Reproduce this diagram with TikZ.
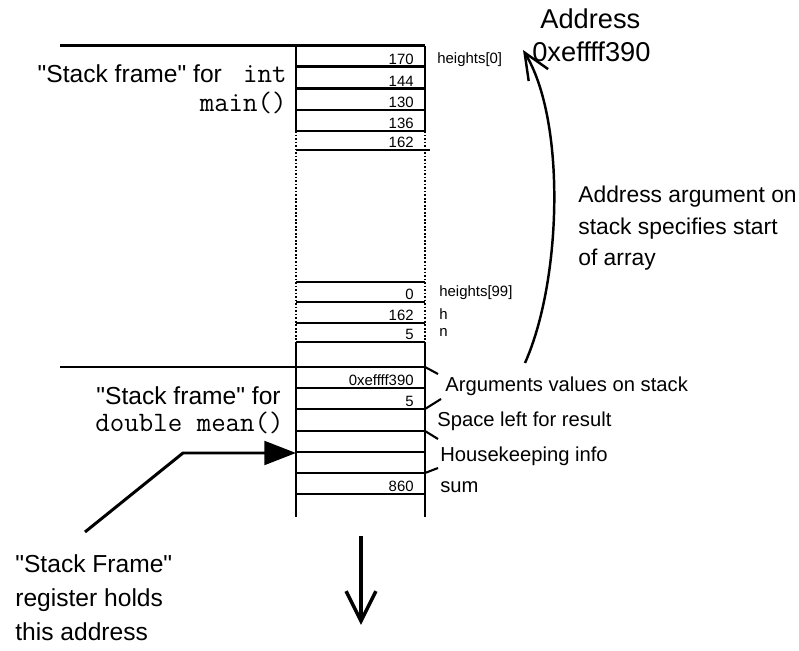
\documentclass[tikz,border=0pt]{standalone}
\usepackage{fontspec}
\setmainfont{Liberation Sans}
\usetikzlibrary{arrows.meta, positioning}

\begin{document}
\begin{tikzpicture}[x=0.02cm, y=-0.02cm,
		wall/.style={line width=1.7pt},
		dotwall/.style={line width=1.7pt, dash pattern=on 1pt off 1pt},
		cellval/.style={anchor=base east, inner sep=0pt, font=\fontsize{8.5}{10}\selectfont},
		varname/.style={anchor=base west, inner sep=0pt, font=\fontsize{8.5}{10}\selectfont},
		note/.style={anchor=base west, inner sep=0pt, font=\fontsize{11.5}{14}\selectfont},
		bignote/.style={anchor=base west, inner sep=0pt, font=\fontsize{13}{15}\selectfont},
		framelbl/.style={anchor=base east, inner sep=0pt, font=\fontsize{14}{16}\selectfont},
		code/.style={font=\fontsize{16}{18}\ttfamily},
		leader/.style={line width=1.2pt}]
	\useasboundingbox (0,0) rectangle (799,651);

	% Frame of main()
	\draw[wall] (60,46) -- (425,46);
	\draw[wall] (296,46) -- (296,131);
	\draw[wall] (425,46) -- (425,131);
	\foreach \y in {67,89,110,131} \draw[wall] (296,\y) -- (425,\y);
	\draw[wall] (296,150) -- (430,150);
	\draw[dotwall] (296,131) -- (296,342);
	\draw[dotwall] (425,131) -- (425,342);
	\foreach \y in {282,302,323,342} \draw[wall] (296,\y) -- (425,\y);

	% Frame of mean()
	\draw[wall] (60,367) -- (425,367);
	\draw[wall] (296,342) -- (296,517);
	\draw[wall] (425,342) -- (425,517);
	\foreach \y in {388,409,431,452,473,494} \draw[wall] (296,\y) -- (425,\y);

	% Cell contents
	\foreach \v/\y in {170/67, 144/89, 130/110, 136/131, 162/150, 0/302, 162/323, 5/342, 0xeffff390/388, 5/409, 860/494}
		\node[cellval] (val\y) at (414,\y-2) {\v};

	% Variable names
	\node[varname] (h0) at (437,64) {heights[0]};
	\node[varname] (h99) at (439,297) {heights[99]};
	\node[varname] (hvar) at (439,320) {h};
	\node[varname] (nvar) at (439,337) {n};

	% Frame labels
	\node[framelbl] (mainA) at (287,83) {\textquotedbl Stack frame\textquotedbl{} for {\fontsize{16}{18}\ttfamily{} int}};
	\node[framelbl, code] (mainB) at (287,112) {main()};
	\node[framelbl] (meanA) at (281,405) {\textquotedbl Stack frame\textquotedbl{} for};
	\node[framelbl, code] (meanB) at (284,432) {double mean()};

	% Notes on the mean() frame
	\node[note] (args) at (445,392) {Arguments values on stack};
	\node[note] (space) at (437,427) {Space left for result};
	\node[note] (house) at (440,462) {Housekeeping info};
	\node[note] (sum) at (440,493) {sum};
	\coordinate (argsL) at (438,374);
	\coordinate (spaceL) at (441,399);
	\coordinate (houseL) at (438,439);
	\coordinate (sumL) at (438,468);
	\draw[leader] (425,367) -- (argsL);
	\draw[leader] (425,409) -- (spaceL);
	\draw[leader] (425,431) -- (houseL);
	\draw[leader] (425,473) -- (sumL);

	% Address of the array
	\node[anchor=base west, inner sep=0pt, font=\fontsize{15.5}{18}\selectfont] (addrA) at (540,29) {Address};
	\node[anchor=base west, inner sep=0pt, font=\fontsize{15.5}{18}\selectfont] (addrB) at (532,62) {0xeffff390};
	\node[bignote] (startA) at (578,203) {Address argument on};
	\node[bignote] (startB) at (578,235) {stack specifies start};
	\node[bignote] (startC) at (578,266) {of array};
	\coordinate (argtail) at (525,363);
	\coordinate (addrtip) at (523,50);
	\draw[line width=1.4pt, -{Straight Barb[length=15pt, width=13pt]}] (argtail) .. controls (562,280) and (566,120) .. (addrtip);

	% Stack frame register
	\node[anchor=base west, inner sep=0pt, font=\fontsize{14}{16}\selectfont] (regA) at (15,573) {\textquotedbl Stack Frame\textquotedbl};
	\node[anchor=base west, inner sep=0pt, font=\fontsize{14}{16}\selectfont] (regB) at (15,607) {register holds};
	\node[anchor=base west, inner sep=0pt, font=\fontsize{14}{16}\selectfont] (regC) at (15,641) {this address};
	\coordinate (regtail) at (85,532);
	\coordinate (bend) at (183,453);
	\coordinate (fp) at (296,453);
	\draw[line width=1.7pt, -{Triangle[length=18pt, width=13.5pt]}] (regtail) -- (bend) -- (fp);

	% Growth direction
	\coordinate (growtop) at (361,536);
	\coordinate (growend) at (361,625);
	\draw[line width=2pt, -{Straight Barb[length=17pt, width=17pt]}] (growtop) -- (growend);
\end{tikzpicture}
\end{document}
